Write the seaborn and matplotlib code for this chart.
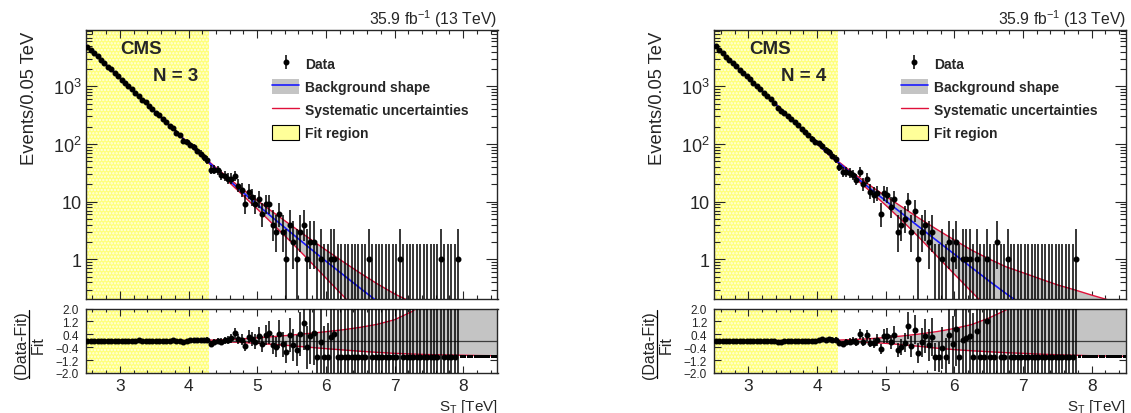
import numpy as np
import pandas as pd
import matplotlib
matplotlib.use("Agg")
import matplotlib.pyplot as plt
import seaborn as sns
from matplotlib.patches import Patch
from matplotlib.lines import Line2D
from matplotlib.ticker import (MultipleLocator, FixedLocator, FixedFormatter,
                               LogLocator, NullFormatter)

# ---------------- data ----------------
bin_low_edge = 2.5
bin_width = 0.05
n_bins = 120
st_centers = bin_low_edge + bin_width * (np.arange(n_bins) + 0.5)

# observed events per 0.05 TeV bin (N = 3)
counts_n3 = [4890, 4330, 3730, 3310, 2850, 2540, 2190, 1960, 1690, 1500,
             1300, 1160, 1000, 890, 770, 690, 590, 525, 455, 405,
             350, 312, 268, 240, 206, 186, 158, 142, 114, 109,
             97, 88, 77, 68, 59, 53,
             36, 36, 35, 29, 28, 25, 25, 28, 19, 16, 9, 15,
             12, 9, 11, 6, 9, 9, 4, 3, 6, 3, 1, 4,
             2, 1, 3, 4, 1, 2, 2, 0, 1, 0, 0, 1, 1,
             0, 0, 0, 0, 0, 0, 0, 0, 0, 1, 0, 0, 0, 0, 0, 0, 0, 0, 1,
             0, 0, 0, 0, 0, 0, 0, 0, 0, 0, 0, 1, 0, 0, 0, 0, 1,
             0, 0, 0, 0, 0, 0, 0, 0, 0, 0, 0]

# observed events per 0.05 TeV bin (N = 4)
counts_n4 = [4930, 4270, 3770, 3270, 2890, 2510, 2220, 1930, 1710, 1480,
             1320, 1140, 1010, 880, 780, 675, 598, 520, 425, 372,
             350, 305, 272, 236, 210, 182, 161, 141, 124, 109,
             103, 92, 80, 72, 63, 55,
             40, 33, 33, 31, 29, 24, 33, 20, 25, 15, 13, 14,
             6, 14, 13, 8, 11, 3, 4, 5, 10, 3, 7, 1,
             3, 4, 2, 3, 0, 0, 1, 0, 2, 1, 2, 0, 1,
             1, 1, 0, 1, 0, 0, 1, 0,
             0, 2, 0, 0, 1, 0, 0, 0, 0, 0, 0, 0, 0, 0, 0, 0, 0, 0, 0, 0,
             0, 0, 0, 0, 1, 0, 0, 0, 0, 0, 0, 0, 0, 0, 0, 0, 0, 0, 0]

# background fit read at knots (events / 0.05 TeV)
st_knots = [2.5, 2.75, 3.0, 3.25, 3.5, 3.75, 4.0, 4.25, 4.5, 4.75, 5.0, 5.25,
            5.5, 5.75, 6.0, 6.25, 6.5, 6.75, 7.0, 7.25, 7.5, 7.75, 8.0, 8.25, 8.5]
fit_n3 = [5248, 2692, 1396, 724.4, 375.8, 195.0, 101.2, 53.70, 29.17, 16.03,
          8.913, 5.012, 2.851, 1.622, 0.9333, 0.5433, 0.3162, 0.1862, 0.1096,
          0.06457, 0.03802, 0.02265, 0.01349, 0.008035, 0.004786]
fit_n4 = [5248, 2692, 1396, 724.4, 375.8, 195.0, 102.3, 54.95, 30.90, 17.78,
          10.35, 6.095, 3.548, 2.089, 1.230, 0.7244, 0.4266, 0.2570, 0.1585,
          0.09772, 0.06026, 0.03802, 0.02399, 0.01514, 0.009550]

# relative systematic uncertainty envelope (upper / lower)
syst_up_n3 = [0.03, 0.02, 0.015, 0.01, 0.01, 0.01, 0.015, 0.03, 0.06, 0.11, 0.18,
              0.26, 0.35, 0.45, 0.56, 0.68, 0.83, 1.02, 1.3, 1.8, 2.5, 3.4, 4.6, 6.2, 8.3]
syst_dn_n3 = [-0.03, -0.02, -0.015, -0.01, -0.01, -0.01, -0.015, -0.03, -0.06, -0.1,
              -0.16, -0.23, -0.31, -0.4, -0.49, -0.57, -0.65, -0.72, -0.78, -0.82,
              -0.86, -0.88, -0.9, -0.92, -0.93]
syst_up_n4 = [0.03, 0.02, 0.015, 0.01, 0.01, 0.01, 0.015, 0.03, 0.07, 0.12, 0.2,
              0.3, 0.42, 0.57, 0.76, 1.0, 1.4, 1.9, 2.7, 3.7, 5.0, 6.8, 9.0, 12.0, 16.0]
syst_dn_n4 = [-0.03, -0.02, -0.015, -0.01, -0.01, -0.01, -0.015, -0.03, -0.06, -0.1,
              -0.16, -0.25, -0.35, -0.46, -0.55, -0.62, -0.68, -0.74, -0.78, -0.83,
              -0.87, -0.9, -0.93, -0.95, -0.97]

fit_region = (2.5, 4.3)
panel_labels = ["N = 3", "N = 4"]
legend_labels = ["Data", "Background shape", "Systematic uncertainties", "Fit region"]
lumi_label = "35.9 fb$^{-1}$ (13 TeV)"
y_label = "Events/0.05 TeV"
x_label = "S$_{\\mathrm{T}}$ [TeV]"
ratio_ticks = [-2.0, -1.2, -0.4, 0.4, 1.2, 2.0]
ratio_ticklabels = ["\u22122.0", "\u22121.2", "\u22120.4", "0.4", "1.2", "2.0"]
log_ticks = [1, 10, 100, 1000]
log_ticklabels = ["1", "10", "$10^{2}$", "$10^{3}$"]

# ---------------- style ----------------
sns.set_style("ticks")
plt.rcParams["font.family"] = ["Liberation Sans", "DejaVu Sans"]
plt.rcParams["mathtext.fontset"] = "custom"
plt.rcParams["mathtext.rm"] = "Liberation Sans"
plt.rcParams["mathtext.it"] = "Liberation Sans:italic"
plt.rcParams["mathtext.bf"] = "Liberation Sans:bold"
plt.rcParams["axes.linewidth"] = 1.0
plt.rcParams["hatch.linewidth"] = 1.1

YELLOW = "#ffff7a"
HATCH = "#ffffe6"
GRAY = "#c4c4c4"
RED = "#e0103a"
BLUE = "#1a1aff"

W, H = 1131.0, 414.0
fig = plt.figure(figsize=(W / 100, H / 100), dpi=100)


def rect(l, t, r, b):
    return [l / W, 1 - b / H, (r - l) / W, (b - t) / H]


panels = [
    (counts_n3, fit_n3, syst_up_n3, syst_dn_n3, panel_labels[0], 85.5),
    (counts_n4, fit_n4, syst_up_n4, syst_dn_n4, panel_labels[1], 714.0),
]

knots = np.array(st_knots)
for counts, fit, up, dn, plabel, left in panels:
    right = left + 412.0
    ax = fig.add_axes(rect(left, 30.7, right, 300.3))
    axr = fig.add_axes(rect(left, 309.5, right, 374.0))

    n = np.array(counts, dtype=float)
    fitk = np.array(fit)
    upk = np.array(up)
    dnk = np.array(dn)
    fit_c = np.exp(np.interp(st_centers, knots, np.log(fitk)))
    idx = np.arange(n_bins)
    last = np.nonzero(n)[0].max()
    err_up = np.sqrt(n + 0.75) + 1.0
    err_lo = np.where(n > 0, np.sqrt(np.maximum(n - 0.25, 0)), 0.0)

    # ---------- main panel ----------
    ax.set_yscale("log")
    ax.set_xlim(2.5, 8.5)
    ax.set_ylim(0.203, 9570)
    ax.axvspan(*fit_region, facecolor=YELLOW, edgecolor=HATCH, hatch=".....",
               lw=0, zorder=0)
    ax.fill_between(knots, fitk * (1 + dnk), fitk * (1 + upk), color=GRAY,
                    lw=0, zorder=1)
    sns.lineplot(x=knots, y=fitk * (1 + upk), ax=ax, color=RED, lw=1.0,
                 estimator=None, sort=False, zorder=2)
    sns.lineplot(x=knots, y=fitk * (1 + dnk), ax=ax, color=RED, lw=1.0,
                 estimator=None, sort=False, zorder=2)
    sns.lineplot(x=knots, y=fitk, ax=ax, color=BLUE, lw=1.2,
                 estimator=None, sort=False, zorder=3)
    nz = n > 0
    eb = ax.errorbar(st_centers[nz], n[nz], yerr=[err_lo[nz], err_up[nz]],
                     fmt="o", ms=3.3, color="black", elinewidth=1.1,
                     capsize=0, zorder=5)
    zin = (n == 0) & (idx <= last)
    ax.vlines(st_centers[zin], 1e-3, err_up[zin], color="black", lw=1.1, zorder=5)

    ax.text(0.136, 0.932, "CMS", transform=ax.transAxes, ha="center",
            va="center", fontsize=13.5, fontweight="bold", zorder=6)
    ax.text(0.218, 0.829, plabel, transform=ax.transAxes, ha="center",
            va="center", fontsize=13.5, fontweight="bold", zorder=6)

    handles = [eb,
               (Patch(facecolor=GRAY, edgecolor="none"), Line2D([], [], color=BLUE, lw=1.2)),
               Line2D([], [], color=RED, lw=1.0),
               Patch(facecolor="#ffff99", edgecolor="black", lw=0.8)]
    leg = ax.legend(handles, legend_labels, loc="upper left",
                    bbox_to_anchor=(0.4527, 0.902), frameon=False,
                    borderpad=0, borderaxespad=0, handlelength=1.95,
                    handleheight=1.3, handletextpad=0.45, labelspacing=0.55,
                    prop={"weight": "bold", "size": 10})
    leg.set_zorder(7)

    ax.xaxis.set_major_locator(MultipleLocator(1))
    ax.xaxis.set_minor_locator(MultipleLocator(0.2))
    ax.yaxis.set_major_locator(FixedLocator(log_ticks))
    ax.yaxis.set_major_formatter(FixedFormatter(log_ticklabels))
    ax.yaxis.set_minor_locator(LogLocator(base=10, subs=np.arange(2, 10), numticks=30))
    ax.yaxis.set_minor_formatter(NullFormatter())
    ax.tick_params(which="both", direction="in", top=True, right=True, width=0.8)
    ax.tick_params(axis="x", which="major", length=6, labelbottom=False)
    ax.tick_params(axis="x", which="minor", length=3)
    ax.tick_params(axis="y", which="major", length=8, labelsize=13, pad=3)
    ax.tick_params(axis="y", which="minor", length=4)
    ax.set_xlabel("")
    ax.set_ylabel("")

    # ---------- ratio panel ----------
    r = (n - fit_c) / fit_c
    rerr = err_up / fit_c
    axr.set_xlim(2.5, 8.5)
    axr.set_ylim(-2.0, 2.0)
    axr.axvspan(*fit_region, facecolor=YELLOW, edgecolor=HATCH, hatch=".....",
                lw=0, zorder=0)
    axr.fill_between(knots, dnk, upk, color=GRAY, lw=0, zorder=1)
    sns.lineplot(x=knots, y=upk, ax=axr, color=RED, lw=1.0,
                 estimator=None, sort=False, zorder=2)
    sns.lineplot(x=knots, y=dnk, ax=axr, color=RED, lw=1.0,
                 estimator=None, sort=False, zorder=2)
    axr.axhline(0, color="#3c3c3c", lw=0.9, zorder=3)
    shown = idx <= last
    axr.errorbar(st_centers[shown], r[shown], yerr=rerr[shown], fmt="o",
                 ms=3.3, color="black", elinewidth=1.1, capsize=0, zorder=5)
    sns.scatterplot(x=st_centers[~shown], y=r[~shown], ax=axr, color="black",
                    s=5, marker="s", edgecolor="none", zorder=5)

    axr.xaxis.set_major_locator(MultipleLocator(1))
    axr.xaxis.set_minor_locator(MultipleLocator(0.2))
    axr.yaxis.set_major_locator(FixedLocator(ratio_ticks))
    axr.yaxis.set_major_formatter(FixedFormatter(ratio_ticklabels))
    axr.tick_params(which="both", direction="in", top=True, right=True, width=0.8)
    axr.tick_params(axis="x", which="major", length=5, labelsize=12.5, pad=3.5)
    axr.tick_params(axis="x", which="minor", length=2.5)
    axr.tick_params(axis="y", which="major", length=5, labelsize=8.5, pad=5)
    axr.set_xlabel("")
    axr.set_ylabel("")

    # ---------- texts ----------
    fig.text(right / W, 1 - 25 / H, lumi_label, ha="right", va="baseline",
             fontsize=11.3)
    fig.text((left - 56.5) / W, 1 - 31.7 / H, y_label, rotation=90,
             ha="center", va="top", fontsize=13.2)
    fig.text(right / W, 3.2 / H, x_label, ha="right", va="baseline", fontsize=11)
    fig.text((left - 64.5) / W, 1 - 345 / H, "(Data-Fit)", rotation=90,
             ha="center", va="center", fontsize=11.5)
    fig.add_artist(Line2D([(left - 57) / W] * 2, [1 - 311 / H, 1 - 379 / H],
                          transform=fig.transFigure, color="black", lw=0.9))
    fig.text((left - 47.5) / W, 1 - 345 / H, "Fit", rotation=90,
             ha="center", va="center", fontsize=11.5)

fig.savefig("out.png", dpi=100)
